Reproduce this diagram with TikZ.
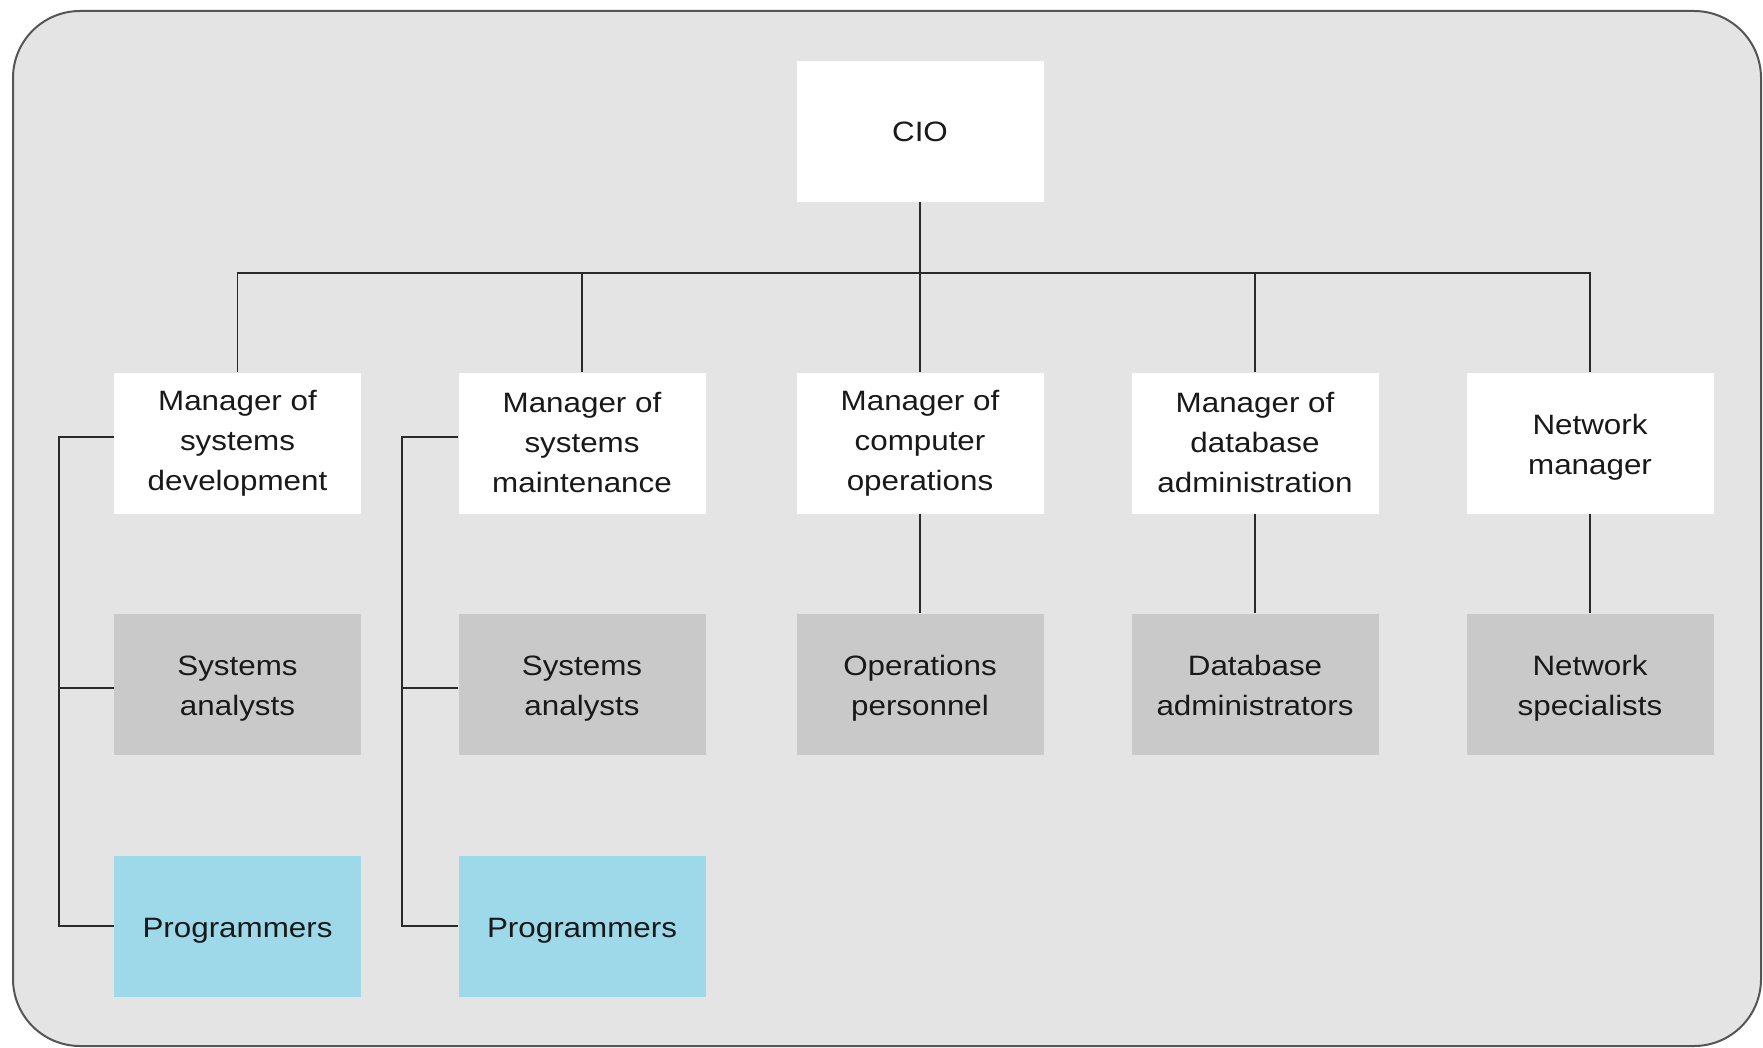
\documentclass[tikz,border=0pt]{standalone}
\usepackage{fontspec}
\setmainfont{Liberation Sans}[FakeStretch=1.12]
\definecolor{panelgray}{HTML}{E4E4E4}
\definecolor{framegray}{HTML}{555555}
\definecolor{staffgray}{HTML}{C9C9C9}
\definecolor{progblue}{HTML}{9DD9E9}
\definecolor{linegray}{HTML}{2A2A2A}
\tikzset{
  orgbox/.style={rectangle, minimum width=247pt, minimum height=141pt, inner sep=0pt,
    align=center, text=black!90, font=\fontsize{28}{40}\selectfont},
  managerbox/.style={orgbox, fill=white},
  staffbox/.style={orgbox, fill=staffgray},
  progbox/.style={orgbox, fill=progblue},
  % caption set slightly below the box centre
  lowcap/.style={label={[align=center, text=black!90, font=\fontsize{28}{40}\selectfont,
    inner sep=0pt, yshift=-4.5pt]center:#1}},
  link/.style={draw=linegray, line width=1.6pt},
}
\begin{document}
\begin{tikzpicture}[x=1pt,y=-1pt]
\useasboundingbox (0,0) rectangle (1763,1048);
% outer panel
\draw[fill=panelgray, draw=framegray, line width=2pt, rounded corners=67pt] (13,11) rectangle (1761,1046);

% top
\node[managerbox] (cio) at (920,131.5) {CIO};

% managers
\node[managerbox] (m1) at (237.5,443) {Manager of\\systems\\development};
\node[managerbox] (m2) at (582,443) {Manager of\\systems\\maintenance};
\node[managerbox] (m3) at (920,443) {Manager of\\computer\\operations};
\node[managerbox] (m4) at (1255,443) {Manager of\\database\\administration};
\node[managerbox, lowcap={Network\\manager}] (m5) at (1590,443) {};

% staff
\node[staffbox, lowcap={Systems\\analysts}] (a1) at (237.5,684) {};
\node[staffbox, lowcap={Systems\\analysts}] (a2) at (582,684) {};
\node[staffbox, lowcap={Operations\\personnel}] (a3) at (920,684) {};
\node[staffbox, lowcap={Database\\administrators\vphantom{y}}] (a4) at (1255,684) {};
\node[staffbox, lowcap={Network\\specialists}] (a5) at (1590,684) {};

% programmers
\node[progbox, lowcap={Programmers}] (p1) at (237.5,926) {};
\node[progbox, lowcap={Programmers}] (p2) at (582,926) {};

% bus below the CIO
\coordinate (bus) at (920,273);
\draw[link] (cio.south) -- (bus);
\draw[link] (m1.north) -- (m1.north |- bus) -- (m5.north |- bus) -- (m5.north);
\draw[link] (m2.north) -- (m2.north |- bus);
\draw[link] (m3.north) -- (m3.north |- bus);
\draw[link] (m4.north) -- (m4.north |- bus);

% direct reports
\draw[link] (m3.south) -- (a3.north);
\draw[link] (m4.south) -- (a4.north);
\draw[link] (m5.south) -- (a5.north);

% side brackets
\coordinate (b1) at (59,437);
\coordinate (b2) at (402,437);
\draw[link] (b1 -| m1.west) -- (b1) |- (p1.west);
\draw[link] ([yshift=-4pt]a1.west) -- ([yshift=-4pt]a1.west -| b1);
\draw[link] (b2 -| m2.west) -- (b2) |- (p2.west);
\draw[link] ([yshift=-4pt]a2.west) -- ([yshift=-4pt]a2.west -| b2);
\end{tikzpicture}
\end{document}
